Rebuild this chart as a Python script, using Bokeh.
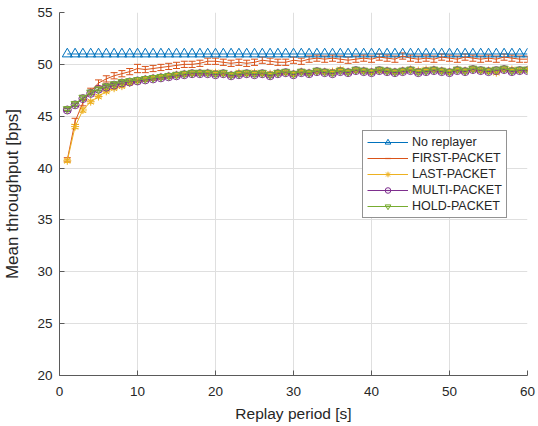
import numpy as np
from bokeh.plotting import figure
from bokeh.models import (ColumnDataSource, Whisker, TeeHead, Legend, LegendItem,
                          SingleIntervalTicker, Range1d)
from bokeh.embed import file_html
from bokeh.resources import INLINE

period = list(range(1, 61))

no_replayer = [51.0, 51.0, 51.0, 51.0, 51.0, 51.0, 51.0, 51.0, 51.0, 51.0,
               51.0, 51.0, 51.0, 51.0, 51.0, 51.0, 51.0, 51.0, 51.0, 51.0,
               51.0, 51.0, 51.0, 51.0, 51.0, 51.0, 51.0, 51.0, 51.0, 51.0,
               51.0, 51.0, 51.0, 51.0, 51.0, 51.0, 51.0, 51.0, 51.0, 51.0,
               51.0, 51.0, 51.0, 51.0, 51.0, 51.0, 51.0, 51.0, 51.0, 51.0,
               51.0, 51.0, 51.0, 51.0, 51.0, 51.0, 51.0, 51.0, 51.0, 51.0]

first_packet = [40.8, 44.5, 46.3, 47.4, 48.2, 48.6, 48.9, 49.1, 49.3, 49.6,
                49.5, 49.6, 49.7, 49.8, 49.9, 50.0, 50.0, 50.1, 50.3, 50.3,
                50.2, 50.1, 50.2, 50.1, 50.2, 50.4, 50.3, 50.2, 50.2, 50.4,
                50.3, 50.5, 50.6, 50.5, 50.6, 50.5, 50.4, 50.5, 50.6, 50.5,
                50.7, 50.6, 50.5, 50.8, 50.6, 50.5, 50.6, 50.5, 50.7, 50.6,
                50.5, 50.7, 50.6, 50.5, 50.6, 50.5, 50.7, 50.6, 50.5, 50.5]
first_err = [0.2, 0.3, 0.3, 0.3, 0.3, 0.3, 0.3, 0.3, 0.3, 0.4,
             0.3, 0.3, 0.3, 0.3, 0.3, 0.3, 0.3, 0.3, 0.3, 0.3,
             0.3, 0.3, 0.3, 0.3, 0.3, 0.3, 0.3, 0.3, 0.3, 0.3,
             0.3, 0.3, 0.3, 0.3, 0.3, 0.3, 0.3, 0.3, 0.3, 0.3,
             0.3, 0.3, 0.3, 0.3, 0.3, 0.3, 0.3, 0.3, 0.3, 0.3,
             0.3, 0.3, 0.3, 0.3, 0.3, 0.3, 0.3, 0.3, 0.3, 0.3]

last_packet = [40.7, 44.0, 45.6, 46.4, 46.9, 47.4, 47.7, 47.9, 48.2, 48.4,
               48.6, 48.7, 48.8, 48.9, 49.0, 49.1, 49.1, 49.2, 49.2, 49.2,
               49.1, 49.0, 49.2, 49.1, 49.2, 49.1, 49.1, 49.2, 49.2, 49.1,
               49.3, 49.2, 49.3, 49.3, 49.3, 49.5, 49.3, 49.4, 49.4, 49.3,
               49.4, 49.4, 49.3, 49.4, 49.5, 49.4, 49.5, 49.5, 49.4, 49.3,
               49.5, 49.4, 49.5, 49.4, 49.4, 49.2, 49.5, 49.5, 49.4, 49.5]
last_err = [0.15, 0.2, 0.2, 0.15, 0.15, 0.15, 0.15, 0.15, 0.15, 0.15,
            0.15, 0.15, 0.15, 0.15, 0.15, 0.15, 0.15, 0.15, 0.15, 0.15,
            0.15, 0.15, 0.15, 0.15, 0.15, 0.15, 0.15, 0.15, 0.15, 0.15,
            0.15, 0.15, 0.15, 0.15, 0.15, 0.15, 0.15, 0.15, 0.15, 0.15,
            0.15, 0.15, 0.15, 0.15, 0.15, 0.15, 0.15, 0.15, 0.15, 0.15,
            0.15, 0.15, 0.15, 0.15, 0.15, 0.15, 0.15, 0.15, 0.15, 0.15]

multi_packet = [45.6, 46.1, 46.7, 47.2, 47.6, 47.8, 48.0, 48.2, 48.3, 48.4,
                48.5, 48.6, 48.7, 48.8, 48.9, 49.0, 49.1, 49.1, 49.1, 49.0,
                49.1, 48.9, 49.0, 49.1, 49.0, 49.1, 48.9, 49.1, 49.2, 49.0,
                49.2, 49.1, 49.3, 49.2, 49.1, 49.3, 49.2, 49.4, 49.3, 49.2,
                49.4, 49.3, 49.2, 49.3, 49.4, 49.2, 49.3, 49.4, 49.3, 49.2,
                49.4, 49.3, 49.5, 49.4, 49.3, 49.4, 49.5, 49.3, 49.4, 49.4]
multi_err = [0.15, 0.15, 0.15, 0.15, 0.15, 0.15, 0.15, 0.15, 0.15, 0.15,
             0.15, 0.15, 0.15, 0.15, 0.15, 0.15, 0.15, 0.15, 0.15, 0.15,
             0.15, 0.15, 0.15, 0.15, 0.15, 0.15, 0.15, 0.15, 0.15, 0.15,
             0.15, 0.15, 0.15, 0.15, 0.15, 0.15, 0.15, 0.15, 0.15, 0.15,
             0.15, 0.15, 0.15, 0.15, 0.15, 0.15, 0.15, 0.15, 0.15, 0.15,
             0.15, 0.15, 0.15, 0.15, 0.15, 0.15, 0.15, 0.15, 0.15, 0.15]

hold_packet = [45.7, 46.2, 46.8, 47.3, 47.6, 47.9, 48.1, 48.3, 48.4, 48.5,
               48.6, 48.7, 48.8, 48.9, 49.0, 49.1, 49.2, 49.2, 49.2, 49.1,
               49.2, 49.0, 49.1, 49.2, 49.1, 49.2, 49.0, 49.2, 49.3, 49.1,
               49.3, 49.2, 49.4, 49.3, 49.2, 49.4, 49.3, 49.5, 49.4, 49.3,
               49.5, 49.4, 49.3, 49.4, 49.5, 49.3, 49.4, 49.5, 49.4, 49.3,
               49.5, 49.4, 49.6, 49.5, 49.4, 49.5, 49.6, 49.4, 49.5, 49.5]
hold_err = [0.15, 0.15, 0.15, 0.15, 0.15, 0.15, 0.15, 0.15, 0.15, 0.15,
            0.15, 0.15, 0.15, 0.15, 0.15, 0.15, 0.15, 0.15, 0.15, 0.15,
            0.15, 0.15, 0.15, 0.15, 0.15, 0.15, 0.15, 0.15, 0.15, 0.15,
            0.15, 0.15, 0.15, 0.15, 0.15, 0.15, 0.15, 0.15, 0.15, 0.15,
            0.15, 0.15, 0.15, 0.15, 0.15, 0.15, 0.15, 0.15, 0.15, 0.15,
            0.15, 0.15, 0.15, 0.15, 0.15, 0.15, 0.15, 0.15, 0.15, 0.15]

labels = ["No replayer", "FIRST-PACKET", "LAST-PACKET", "MULTI-PACKET", "HOLD-PACKET"]
colors = ["#0072BD", "#D95319", "#EDB120", "#7E2F8E", "#77AC30"]
FONT = "Liberation Sans"
TXT = "#262626"

p = figure(width=536, height=424, output_backend="svg", toolbar_location=None,
           x_range=Range1d(0, 60), y_range=Range1d(20, 55),
           min_border_left=59, min_border_right=9, min_border_top=12, min_border_bottom=47)
p.outline_line_color = None
p.background_fill_color = "white"

for ax, interval in ((p.xaxis, 10), (p.yaxis, 5)):
    ax.ticker = SingleIntervalTicker(interval=interval)
    ax.minor_tick_line_color = None
    ax.major_tick_in = 5
    ax.major_tick_out = 0
    ax.axis_line_color = "#5a5a5a"
    ax.major_tick_line_color = "#5a5a5a"
    ax.major_label_text_font = FONT
    ax.major_label_text_font_size = "13.5px"
    ax.major_label_text_color = TXT
    ax.axis_label_text_font = FONT
    ax.axis_label_text_font_style = "normal"
    ax.axis_label_text_color = TXT
p.xaxis.major_label_standoff = 7
p.xaxis.axis_label_standoff = 6
p.yaxis.major_label_standoff = 3
p.yaxis.axis_label_standoff = 12
p.xaxis.axis_label = "Replay period [s]"
p.xaxis.axis_label_text_font_size = "15.5px"
p.yaxis.axis_label = "Mean throughput [bps]"
p.yaxis.axis_label_text_font_size = "17px"
p.grid.grid_line_color = "#dfdfdf"
p.grid.grid_line_width = 1

# No replayer
r0l = p.line(period, no_replayer, line_color=colors[0], line_width=1)
r0m = p.scatter(period, no_replayer, marker="triangle", size=10,
                line_color=colors[0], fill_color=None, line_width=1)

series = [(first_packet, first_err, None),
          (last_packet, last_err, "asterisk"),
          (multi_packet, multi_err, "circle"),
          (hold_packet, hold_err, "inverted_triangle")]

items = [LegendItem(label=labels[0], renderers=[r0l, r0m])]
for k, (vals, errs, marker) in enumerate(series):
    c = colors[k + 1]
    v = np.array(vals)
    e = np.array(errs)
    src = ColumnDataSource(dict(x=period, y=vals, lo=list(v - e), hi=list(v + e)))
    w = Whisker(source=src, base="x", lower="lo", upper="hi", line_color=c, line_width=1,
                upper_head=TeeHead(size=7, line_color=c, line_width=1),
                lower_head=TeeHead(size=7, line_color=c, line_width=1))
    p.add_layout(w)
    rl = p.line("x", "y", source=src, line_color=c, line_width=1)
    rend = [rl]
    # legend-only error-bar symbol
    ri = p.scatter(x=np.array([np.nan]), y=np.array([np.nan]), marker="dash",
                   angle=np.pi / 2, size=12, line_color=c, line_width=1.2)
    rend.append(ri)
    if marker is not None:
        rm = p.scatter("x", "y", source=src, marker=marker, size=8,
                       line_color=c, fill_color=None, line_width=1)
        rend.append(rm)
    items.append(LegendItem(label=labels[k + 1], renderers=rend))

leg = Legend(items=items, location=(303, 157))
leg.label_text_font = FONT
leg.label_text_font_size = "12.5px"
leg.label_text_color = TXT
leg.border_line_color = TXT
leg.border_line_width = 1
leg.background_fill_color = "white"
leg.background_fill_alpha = 1
leg.glyph_width = 41
leg.glyph_height = 14
leg.label_height = 14
leg.spacing = 2
leg.padding = 4
leg.margin = 0
leg.label_standoff = 4
p.add_layout(leg, "center")

open("out.html", "w").write(file_html(p, INLINE))
